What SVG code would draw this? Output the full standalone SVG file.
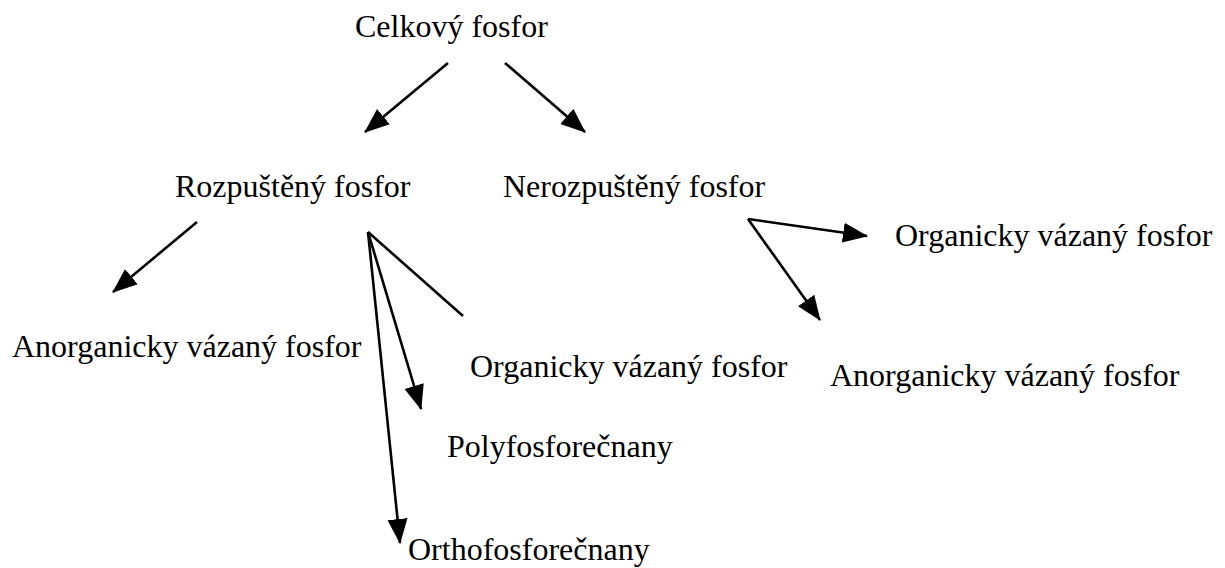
<svg xmlns="http://www.w3.org/2000/svg" width="1225" height="568" viewBox="0 0 1225 568">
<style>
text{font-family:"Liberation Serif","Times New Roman",serif;font-size:32px;fill:#000}
.c line{stroke:#000;stroke-width:2.6;fill:none}
</style>
<defs>
<marker id="ah" markerUnits="userSpaceOnUse" markerWidth="26" markerHeight="22" viewBox="0 0 26 22" refX="24" refY="11" orient="auto">
<path d="M0,1 L25,11 L0,21 Z" fill="#000"/>
</marker>
</defs>
<rect width="1225" height="568" fill="#fff"/>
<g class="c" id="connectors">
<line x1="448" y1="63" x2="365" y2="132" marker-end="url(#ah)"/>
<line x1="505" y1="63" x2="585" y2="132" marker-end="url(#ah)"/>
<line x1="197" y1="222" x2="113" y2="292" marker-end="url(#ah)"/>
<line x1="368" y1="232" x2="463" y2="316"/>
<line x1="368" y1="232" x2="421" y2="409" marker-end="url(#ah)"/>
<line x1="368" y1="232" x2="400" y2="543" marker-end="url(#ah)"/>
<line x1="748" y1="219" x2="867" y2="236" marker-end="url(#ah)"/>
<line x1="748" y1="219" x2="820" y2="320" marker-end="url(#ah)"/>
</g>
<g id="n-celkovy"><text x="355" y="37">Celkový fosfor</text></g>
<g id="n-rozpusteny"><text x="175" y="197">Rozpuštěný fosfor</text></g>
<g id="n-nerozpusteny"><text x="503" y="197">Nerozpuštěný fosfor</text></g>
<g id="n-org-right"><text x="895" y="246">Organicky vázaný fosfor</text></g>
<g id="n-anorg-left"><text x="12" y="357">Anorganicky vázaný fosfor</text></g>
<g id="n-org-mid"><text x="470" y="377">Organicky vázaný fosfor</text></g>
<g id="n-anorg-right"><text x="830" y="386">Anorganicky vázaný fosfor</text></g>
<g id="n-poly"><text x="447" y="457">Polyfosforečnany</text></g>
<g id="n-ortho"><text x="408" y="560">Orthofosforečnany</text></g>
</svg>
